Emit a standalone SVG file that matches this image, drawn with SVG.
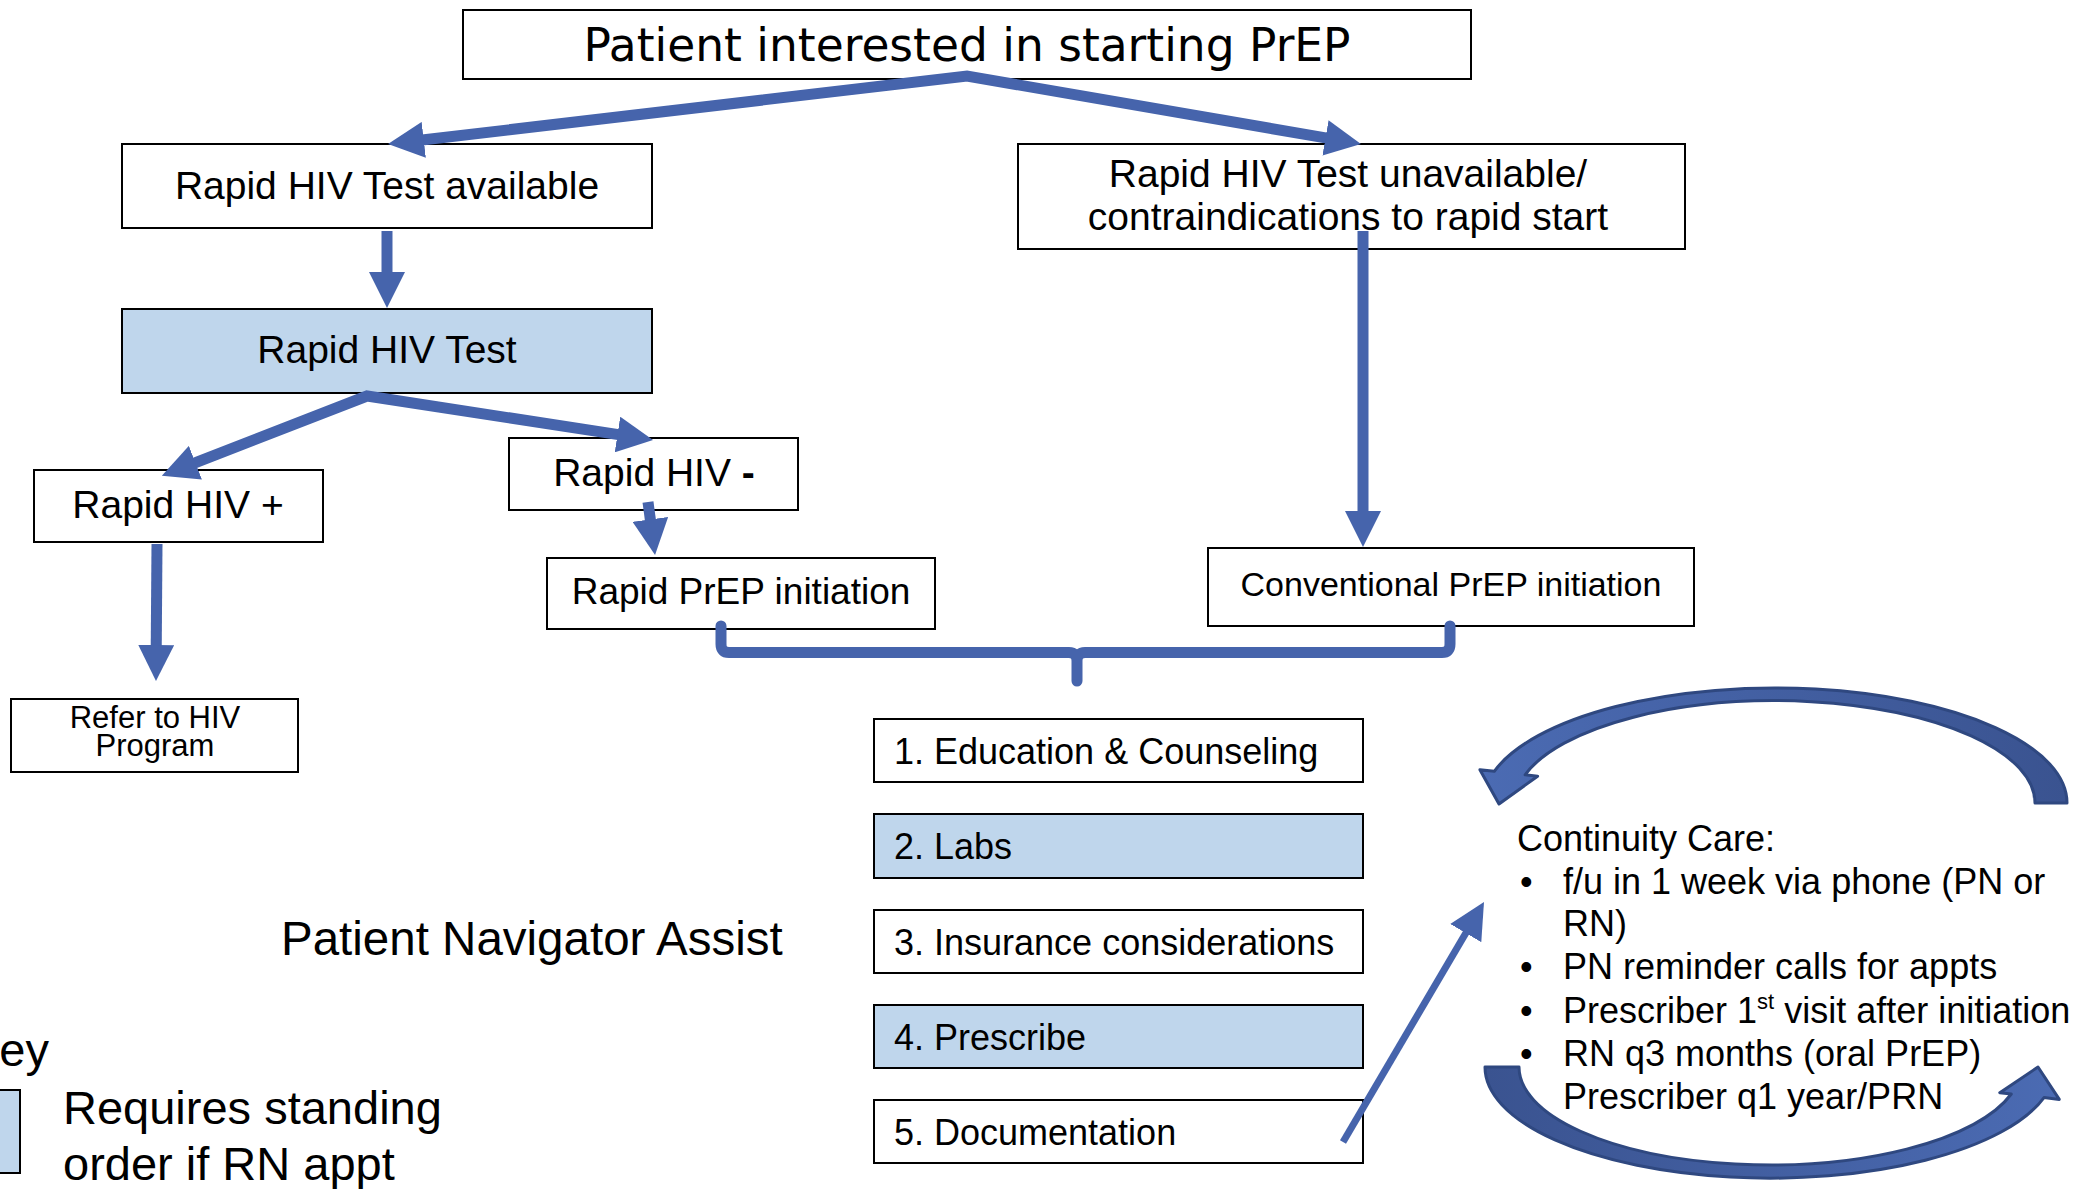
<svg xmlns="http://www.w3.org/2000/svg" width="2074" height="1189" viewBox="0 0 2074 1189">
<style>
.box{fill:#ffffff;stroke:#000000;stroke-width:2}
.blue{fill:#BFD6EC;stroke:#000000;stroke-width:2}
.t{font-family:"Liberation Sans",Arial,sans-serif;fill:#000000}
.c{text-anchor:middle}
.conn{fill:none;stroke:#4664AC;stroke-width:11;stroke-linejoin:miter}
.arc{stroke:#2F4880;stroke-width:3;stroke-linejoin:round}
</style>
<defs>
<marker id="ah" viewBox="0 0 36 36" markerWidth="36" markerHeight="36" markerUnits="userSpaceOnUse" refX="6" refY="18" orient="auto-start-reverse">
<path d="M0,0 L36,18 L0,36 Z" fill="#4664AC"/>
</marker>
<linearGradient id="gTop" x1="0" y1="0" x2="1" y2="0">
<stop offset="0" stop-color="#4B6BB3"/>
<stop offset="1" stop-color="#3A5390"/>
</linearGradient>
<linearGradient id="gBot" x1="0" y1="0" x2="1" y2="0">
<stop offset="0" stop-color="#3A5390"/>
<stop offset="1" stop-color="#4B6BB3"/>
</linearGradient>
</defs>
<rect width="2074" height="1189" fill="#ffffff"/>

<g id="n-start">
<rect class="box" x="463" y="10" width="1008" height="69"/>
<text x="967" y="61" font-family="'DejaVu Sans',Verdana,sans-serif" font-size="45.5" text-anchor="middle">Patient interested in starting PrEP</text>
</g>
<g id="n-available">
<rect class="box" x="122" y="144" width="530" height="84"/>
<text class="t c" x="387" y="199" font-size="39">Rapid HIV Test available</text>
</g>
<g id="n-unavailable">
<rect class="box" x="1018" y="144" width="667" height="105"/>
<text class="t c" x="1348" y="187" font-size="39">Rapid HIV Test unavailable/</text>
<text class="t c" x="1348" y="230" font-size="39">contraindications to rapid start</text>
</g>
<g id="n-test">
<rect class="blue" x="122" y="309" width="530" height="84"/>
<text class="t c" x="387" y="363" font-size="39">Rapid HIV Test</text>
</g>
<g id="n-pos">
<rect class="box" x="34" y="470" width="289" height="72"/>
<text class="t c" x="178" y="518" font-size="39">Rapid HIV +</text>
</g>
<g id="n-neg">
<rect class="box" x="509" y="438" width="289" height="72"/>
<text class="t c" x="654" y="486" font-size="39">Rapid HIV <tspan font-weight="bold">-</tspan></text>
</g>
<g id="n-rapidprep">
<rect class="box" x="547" y="558" width="388" height="71"/>
<text class="t c" x="741" y="604" font-size="37">Rapid PrEP initiation</text>
</g>
<g id="n-conventional">
<rect class="box" x="1208" y="548" width="486" height="78"/>
<text class="t c" x="1451" y="596" font-size="34">Conventional PrEP initiation</text>
</g>
<g id="n-refer">
<rect class="box" x="11" y="699" width="287" height="73"/>
<text class="t c" x="155" y="728" font-size="31">Refer to HIV</text>
<text class="t c" x="155" y="756" font-size="31">Program</text>
</g>
<g id="n-step1">
<rect class="box" x="874" y="719" width="489" height="63"/>
<text class="t" x="894" y="764" font-size="36">1. Education &amp; Counseling</text>
</g>
<g id="n-step2">
<rect class="blue" x="874" y="814" width="489" height="64"/>
<text class="t" x="894" y="859" font-size="36">2. Labs</text>
</g>
<g id="n-step3">
<rect class="box" x="874" y="910" width="489" height="63"/>
<text class="t" x="894" y="955" font-size="36">3. Insurance considerations</text>
</g>
<g id="n-step4">
<rect class="blue" x="874" y="1005" width="489" height="63"/>
<text class="t" x="894" y="1050" font-size="36">4. Prescribe</text>
</g>
<g id="n-step5">
<rect class="box" x="874" y="1100" width="489" height="63"/>
<text class="t" x="894" y="1145" font-size="36">5. Documentation</text>
</g>
<g id="n-navigator">
<text class="t" x="281" y="955" font-size="47.5">Patient Navigator Assist</text>
</g>
<g id="n-key">
<text class="t" x="-32" y="1066" font-size="47">Key</text>
<rect class="blue" x="-60" y="1090" width="80" height="83"/>
<text class="t" x="63" y="1124" font-size="47">Requires standing</text>
<text class="t" x="63" y="1180" font-size="47">order if RN appt</text>
</g>
<g id="n-continuity">
<text class="t" x="1517" y="851" font-size="36">Continuity Care:</text>
<text class="t" x="1520" y="894" font-size="36">•</text>
<text class="t" x="1563" y="894" font-size="36">f/u in 1 week via phone (PN or</text>
<text class="t" x="1563" y="936" font-size="36">RN)</text>
<text class="t" x="1520" y="979" font-size="36">•</text>
<text class="t" x="1563" y="979" font-size="36">PN reminder calls for appts</text>
<text class="t" x="1520" y="1023" font-size="36">•</text>
<text class="t" x="1563" y="1023" font-size="36">Prescriber 1<tspan font-size="22" dy="-14">st</tspan><tspan dy="14"> visit after initiation</tspan></text>
<text class="t" x="1520" y="1066" font-size="36">•</text>
<text class="t" x="1563" y="1066" font-size="36">RN q3 months (oral PrEP)</text>
<text class="t" x="1520" y="1109" font-size="36">•</text>
<text class="t" x="1563" y="1109" font-size="36">Prescriber q1 year/PRN</text>
</g>

<g id="connectors">
<path class="conn" d="M417.8,140.5 L967,76 L1331.4,138.9" marker-start="url(#ah)" marker-end="url(#ah)"/>
<path class="conn" d="M387,231 L387,278" marker-end="url(#ah)"/>
<path class="conn" d="M189.8,464.8 L367,396 L623.4,435.4" marker-start="url(#ah)" marker-end="url(#ah)"/>
<path class="conn" d="M648,502 L651.1,525.3" marker-end="url(#ah)"/>
<path class="conn" d="M157,544 L156.2,651" marker-end="url(#ah)"/>
<path class="conn" d="M1363,231 L1363,517" marker-end="url(#ah)"/>
<path class="conn" style="stroke-linecap:round;stroke-linejoin:round" d="M721,626 L721,644 Q721,652.5 729,652.5 L1069,652.5 Q1077,652.5 1077,661 L1077,681 M1077,661 Q1077,652.5 1085,652.5 L1442,652.5 Q1450,652.5 1450,644 L1450,626"/>
<path class="conn" style="stroke-width:7" d="M1343,1142 L1468.8,927.9" marker-end="url(#ah)"/>
<path class="arc" fill="url(#gTop)" d="M2067,803 A292,115 0 0 0 1494.3,771.3 L1479.9,769.7 L1499,804 L1537.6,776.2 L1525.1,774.8 A260,102.4 0 0 1 2035,803 Z"/>
<path class="arc" fill="url(#gBot)" d="M1485,1067 A285,111.15 0 0 0 2044,1097.6 L2059.3,1099.4 L2038,1067 L1999.8,1092.7 L2011.3,1094 A251,97.9 0 0 1 1519,1067 Z"/>
</g>
</svg>
